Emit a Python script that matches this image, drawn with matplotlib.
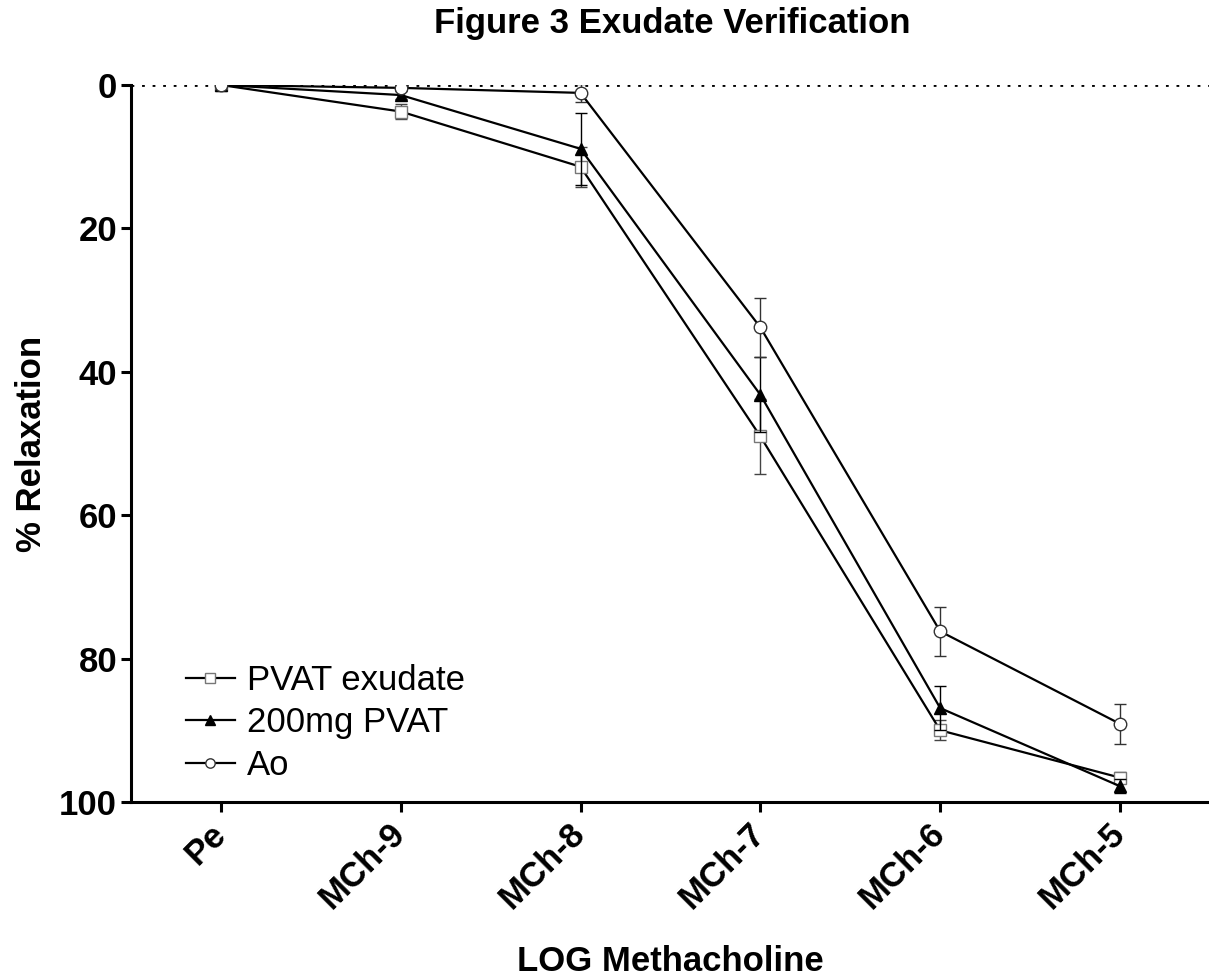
import matplotlib
matplotlib.use("Agg")
import matplotlib.pyplot as plt
import matplotlib.transforms as mtransforms
import numpy as np

plt.rcParams["font.family"] = ["Liberation Sans", "DejaVu Sans"]

categories = ["Pe", "MCh-9", "MCh-8", "MCh-7", "MCh-6", "MCh-5"]
exudate = [0.0, 3.7, 11.4, 49.0, 90.0, 96.6]
exudate_err = [0.3, 1.0, 2.8, 5.2, 1.4, 0.8]
pvat200 = [0.0, 1.4, 8.9, 43.2, 86.9, 97.8]
pvat200_err = [0.3, 0.6, 5.0, 5.2, 3.1, 1.0]
ao = [0.0, 0.4, 1.1, 33.8, 76.2, 89.1]
ao_err = [0.2, 0.3, 1.3, 4.1, 3.4, 2.8]

x = np.arange(len(categories))

fig = plt.figure(figsize=(12.09, 9.77), dpi=100)
ax = fig.add_axes([131 / 1209, 1 - 802 / 977, 1 - 131 / 1209, (802 - 85) / 977])

ax.axhline(0, color="black", linestyle=(0, (1, 2.8)), lw=2, zorder=1)

common = dict(lw=1.6, elinewidth=1.0, capsize=4, capthick=1.0, ms=9)
ax.errorbar(x, exudate, yerr=exudate_err, fmt="-s", color="black", ecolor="#444444",
            mfc="white", mec="#777777", label="PVAT exudate", zorder=3, **common)
ax.errorbar(x, pvat200, yerr=pvat200_err, fmt="-^", color="black", ecolor="black",
            mfc="black", mec="black", label="200mg PVAT", zorder=4, **common)
ax.errorbar(x, ao, yerr=ao_err, fmt="-o", color="black", ecolor="#333333",
            mfc="white", mec="#333333", label="Ao", zorder=5, **common)

ax.set_xlim(-0.50, 5.495)
ax.set_ylim(100, 0)
ax.set_yticks([0, 20, 40, 60, 80, 100])
ax.set_xticks(x)
ax.set_xticklabels(categories, rotation=45, ha="right", rotation_mode="anchor")

ax.tick_params(axis="both", width=2.2, length=7, direction="out")
ax.tick_params(axis="x", pad=6)
ax.tick_params(axis="y", pad=3)
ax.spines["top"].set_visible(False)
ax.spines["right"].set_visible(False)
ax.spines["left"].set_linewidth(2.2)
ax.spines["bottom"].set_linewidth(2.2)

ax.set_ylabel("% Relaxation", fontsize=25, fontweight="bold", labelpad=8)
ax.set_xlabel("LOG Methacholine", fontsize=25, fontweight="bold", labelpad=21)
fig.suptitle("Figure 3 Exudate Verification", fontsize=25, fontweight="bold",
             x=0.556, y=0.993)

handles, labels = ax.get_legend_handles_labels()
handles = [h[0] for h in handles]
ax.legend(handles, labels, loc="lower left", bbox_to_anchor=(0.022, -0.016),
          frameon=False, fontsize=25, handlelength=1.4, handletextpad=0.35,
          labelspacing=0.28, markerscale=0.75, borderaxespad=0.5)

fig.canvas.draw()
# nudge the rotated x labels left so they end under their ticks
shift = mtransforms.ScaledTranslation(-12 / 100, 3 / 100, fig.dpi_scale_trans)
for tick in ax.xaxis.get_major_ticks():
    tick.label1.set_transform(tick.label1.get_transform() + shift)
for lab in ax.get_xticklabels() + ax.get_yticklabels():
    lab.set_fontweight("bold")
    lab.set_fontsize(25)

fig.savefig("out.png", dpi=100)
